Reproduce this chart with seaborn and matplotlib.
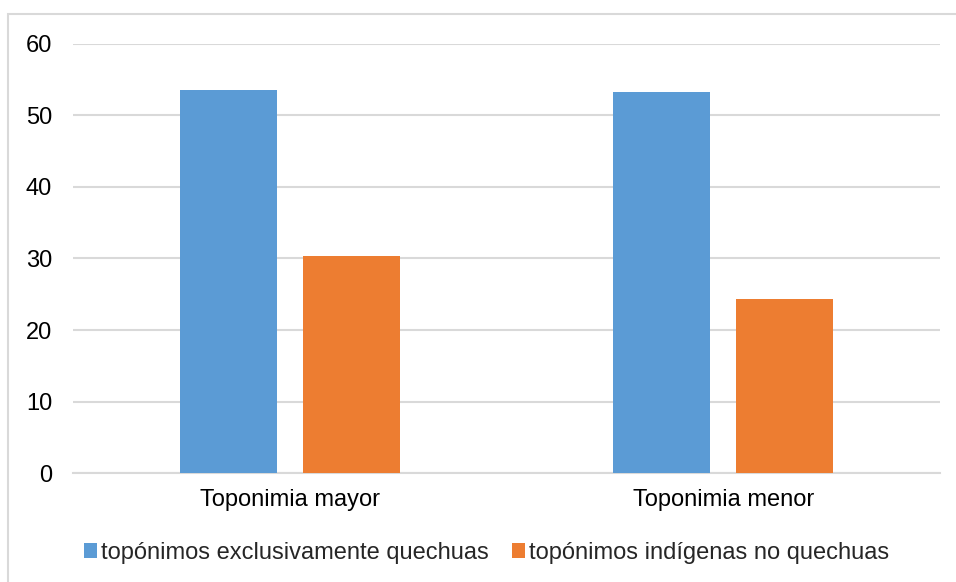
import matplotlib
matplotlib.use("Agg")
import matplotlib.pyplot as plt
from matplotlib.patches import Rectangle
import seaborn as sns
import pandas as pd

categories = ["Toponimia mayor", "Toponimia menor"]
series_names = ["topónimos exclusivamente quechuas", "topónimos indígenas no quechuas"]
quechuas = [53.5, 53.2]
no_quechuas = [30.4, 24.4]
y_ticks = [0, 10, 20, 30, 40, 50, 60]

df = pd.DataFrame({
    "categoria": categories * 2,
    "serie": [series_names[0]] * 2 + [series_names[1]] * 2,
    "valor": quechuas + no_quechuas,
})

sns.set_theme(style="white")
plt.rcParams["font.family"] = ["Liberation Sans", "DejaVu Sans"]

fig = plt.figure(figsize=(9.56, 5.82), dpi=100)
ax = fig.add_axes([0.0764, 0.1868, 0.9069, 0.7382])

palette = {series_names[0]: "#5B9BD5", series_names[1]: "#ED7D31"}
sns.barplot(data=df, x="categoria", y="valor", hue="serie", order=categories,
            hue_order=series_names, palette=palette, width=0.5675, gap=0.21,
            saturation=1, ax=ax, zorder=3, linewidth=0)

ax.set_ylim(0, 60)
ax.set_xlim(-0.5, 1.5)
ax.set_yticks(y_ticks)
ax.set_yticklabels([str(t) for t in y_ticks])
ax.yaxis.grid(True, color="#d9d9d9", linewidth=1.5, zorder=0)
ax.set_axisbelow(True)
for s in ["top", "right", "left"]:
    ax.spines[s].set_visible(False)
ax.spines["bottom"].set_color("#d9d9d9")
ax.spines["bottom"].set_linewidth(1.5)
ax.tick_params(axis="both", length=0, labelsize=17, colors="#000000")
ax.tick_params(axis="y", pad=15)
ax.tick_params(axis="x", pad=11)
ax.set_xlabel("")
ax.set_ylabel("")

handles, labels = ax.get_legend_handles_labels()
ax.legend_.remove()
fig.legend(handles, labels, loc="center", bbox_to_anchor=(0.509, 0.05), ncol=2,
           frameon=False, fontsize=17, handlelength=0.55, handleheight=0.55,
           handletextpad=0.15, columnspacing=1.0)

# chart area border
fig.patches.append(Rectangle((8 / 956, -0.1), 1.2, 1 - 14 / 582 + 0.1,
                             transform=fig.transFigure, fill=False,
                             edgecolor="#d9d9d9", linewidth=1.5, zorder=0))

fig.savefig("out.png", dpi=100, facecolor="white")
